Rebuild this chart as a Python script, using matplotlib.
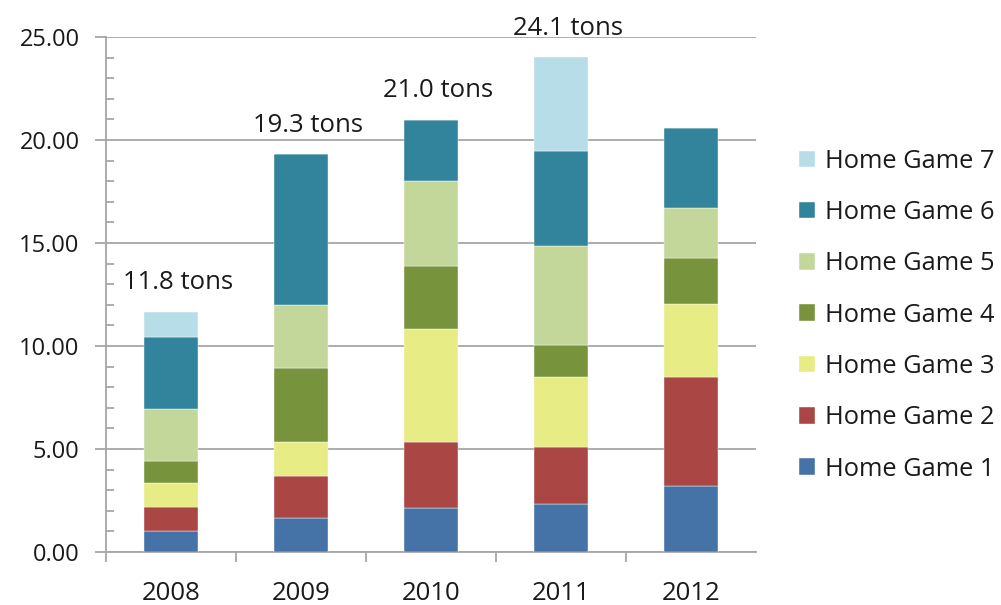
import numpy as np
import matplotlib.pyplot as plt
from matplotlib.ticker import MultipleLocator, FormatStrFormatter

plt.rcParams['font.family'] = ['Open Sans', 'DejaVu Sans']

years = ["2008", "2009", "2010", "2011", "2012"]
series = ["Home Game 1", "Home Game 2", "Home Game 3", "Home Game 4",
          "Home Game 5", "Home Game 6", "Home Game 7"]

# tons per home game, one list per game
game1 = [1.00, 1.63, 2.13, 2.31, 3.18]
game2 = [1.19, 2.05, 3.23, 2.81, 5.32]
game3 = [1.18, 1.66, 5.45, 3.38, 3.55]
game4 = [1.05, 3.61, 3.05, 1.57, 2.24]
game5 = [2.54, 3.04, 4.14, 4.78, 2.41]
game6 = [3.48, 7.31, 2.99, 4.64, 3.90]
game7 = [1.23, 0.00, 0.00, 4.53, 0.00]

total_labels = ["11.8 tons", "19.3 tons", "21.0 tons", "24.1 tons", None]

colors = ["#4572A7", "#AA4643", "#E7EC84", "#77933C",
          "#C4D79B", "#31849B", "#B7DDE8"]

fig = plt.figure(figsize=(10.01, 6.05), dpi=100)
ax = fig.add_axes([0.1059, 0.0876, 0.6494, 0.8512])

x = np.arange(len(years))
bottom = np.zeros(len(years))
handles = []
for name, vals, col in zip(series, [game1, game2, game3, game4, game5, game6, game7], colors):
    vals = np.array(vals)
    h = ax.bar(x, vals, 0.41, bottom=bottom, color=col, label=name,
               edgecolor="white", linewidth=0.3, zorder=3)
    handles.append(h)
    bottom += vals

# total labels above the bars
for i, lab in enumerate(total_labels):
    if lab:
        ax.annotate(lab, xy=(x[i], bottom[i]), xytext=(5, 21),
                    textcoords="offset points", ha="center", va="center",
                    fontsize=18.5, color="#1a1a1a")

ax.set_xlim(-0.5, 4.5)
ax.set_ylim(0, 25)
ax.yaxis.set_major_locator(MultipleLocator(5))
ax.yaxis.set_minor_locator(MultipleLocator(1))
ax.yaxis.set_major_formatter(FormatStrFormatter("%.2f"))
ax.grid(axis="y", which="major", color="#A6A6A6", linewidth=1.3, zorder=0)

ax.set_xticks(x)
ax.set_xticklabels(years)
ax.set_xticks([-0.5, 0.5, 1.5, 2.5, 3.5], minor=True)
ax.tick_params(axis="x", which="major", length=0, pad=21, labelsize=18.5,
               labelcolor="#1a1a1a")
ax.tick_params(axis="x", which="minor", direction="out", length=7, color="#A6A6A6", width=1.3)
ax.tick_params(axis="y", which="major", direction="out", length=8, color="#A6A6A6",
               width=1.3, labelsize=17, pad=11, labelcolor="#1a1a1a")
ax.tick_params(axis="y", which="minor", direction="in", length=6, color="#A6A6A6", width=1.3)

for s in ["top", "right"]:
    ax.spines[s].set_visible(False)
for s in ["left", "bottom"]:
    ax.spines[s].set_color("#A6A6A6")
    ax.spines[s].set_linewidth(1.3)

leg = fig.legend(handles[::-1], series[::-1], loc="center left",
                 bbox_to_anchor=(0.798, 0.479), frameon=False, fontsize=18.3,
                 handlelength=0.63, handleheight=0.63, handletextpad=0.4,
                 labelspacing=1.035, borderpad=0, borderaxespad=0)
for t in leg.get_texts():
    t.set_color("#1a1a1a")

fig.savefig("out.png", dpi=100)
